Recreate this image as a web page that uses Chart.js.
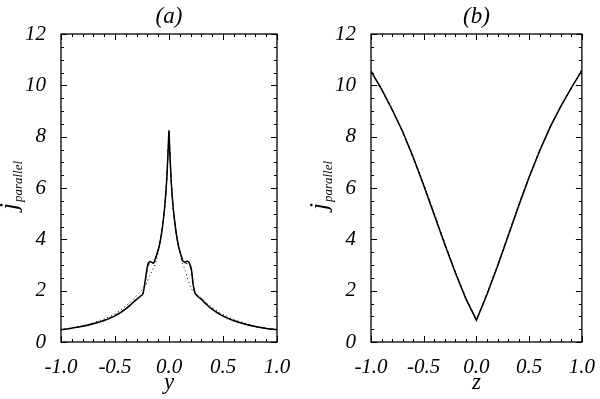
<!DOCTYPE html>
<html>
<head>
<meta charset="utf-8">
<script src="https://cdn.jsdelivr.net/npm/chart.js@4/dist/chart.umd.min.js"></script>
<style>
  html, body { margin: 0; padding: 0; background: #fff; }
  #wrap { position: relative; width: 600px; height: 399px; }
  canvas { position: absolute; top: 0; }
</style>
</head>
<body>
<div id="wrap">
  <canvas id="panelA" width="300" height="399" style="left:0"></canvas>
  <canvas id="panelB" width="300" height="399" style="left:300px"></canvas>
</div>
<script>
// panel (a): j_parallel vs y
const yPos = [-1.0, -0.9, -0.8, -0.7, -0.6, -0.5, -0.45, -0.4, -0.35, -0.3, -0.26, -0.24, -0.22, -0.2, -0.19, -0.175, -0.16, -0.145, -0.13, -0.11, -0.09, -0.07, -0.05, -0.035, -0.02, -0.01, -0.004, 0,
  0.004, 0.01, 0.02, 0.035, 0.05, 0.07, 0.09, 0.11, 0.13, 0.15, 0.17, 0.185, 0.2, 0.21, 0.225, 0.24, 0.26, 0.3, 0.35, 0.4, 0.45, 0.5, 0.6, 0.7, 0.8, 0.9, 1.0];
const jSolidA = [0.48, 0.54, 0.61, 0.71, 0.84, 1.02, 1.14, 1.29, 1.47, 1.66, 1.8, 1.9, 2.4, 2.95, 3.08, 3.14, 3.1, 3.07, 3.2, 3.45, 3.75, 4.2, 4.85, 5.5, 6.4, 7.3, 7.9, 8.25,
  7.8, 7.2, 6.3, 5.4, 4.8, 4.15, 3.7, 3.4, 3.15, 3.12, 3.15, 3.1, 2.95, 2.75, 2.2, 1.92, 1.8, 1.66, 1.45, 1.27, 1.13, 1.01, 0.83, 0.7, 0.6, 0.53, 0.48];
const jDashA = [0.48, 0.54, 0.62, 0.72, 0.85, 1.04, 1.16, 1.31, 1.49, 1.68, 1.8, 1.9, 2.35, 2.85, 3.0, 3.05, 3.05, 3.07, 3.2, 3.45, 3.75, 4.2, 4.85, 5.5, 6.4, 7.3, 7.85, 8.2,
  7.75, 7.15, 6.3, 5.4, 4.8, 4.15, 3.7, 3.4, 3.15, 3.08, 3.05, 3.02, 2.9, 2.7, 2.2, 1.92, 1.82, 1.68, 1.47, 1.29, 1.14, 1.02, 0.84, 0.71, 0.6, 0.53, 0.48];
const jDotA = [0.48, 0.55, 0.63, 0.75, 0.9, 1.1, 1.24, 1.4, 1.58, 1.8, 1.98, 2.08, 2.2, 2.35, 2.48, 2.62, 2.75, 2.88, 3.0, 3.3, 3.7, 4.15, 4.8, 5.45, 6.35, 7.25, 7.85, 8.2,
  7.8, 7.2, 6.3, 5.4, 4.75, 4.1, 3.65, 3.3, 3.0, 2.8, 2.5, 2.3, 2.15, 2.05, 1.98, 1.92, 1.85, 1.72, 1.52, 1.35, 1.2, 1.08, 0.88, 0.74, 0.62, 0.54, 0.48];

// panel (b): j_parallel vs z
const zPos = [-1.0, -0.9, -0.8, -0.7, -0.6, -0.5, -0.4, -0.3, -0.2, -0.1, 0, 0.1, 0.2, 0.3, 0.4, 0.5, 0.6, 0.7, 0.8, 0.9, 1.0];
const jSolidB = [10.55, 9.85, 9.06, 8.2, 7.2, 6.1, 4.95, 3.8, 2.7, 1.68, 0.85, 1.85, 2.95, 4.12, 5.3, 6.42, 7.45, 8.38, 9.18, 9.9, 10.58];
const jDashB = [10.55, 9.83, 9.04, 8.18, 7.18, 6.12, 4.98, 3.83, 2.72, 1.7, 0.86, 1.87, 2.97, 4.14, 5.32, 6.44, 7.46, 8.38, 9.18, 9.9, 10.58];
const jDotB = [10.55, 9.87, 9.08, 8.23, 7.24, 6.16, 5.02, 3.86, 2.74, 1.72, 0.87, 1.89, 3.0, 4.17, 5.35, 6.46, 7.48, 8.4, 9.2, 9.9, 10.58];

const xTickVals = [-1, -0.5, 0, 0.5, 1];
const xTickLabels = ['-1.0', '-0.5', '0.0', '0.5', '1.0'];
const yTickVals = [0, 2, 4, 6, 8, 10, 12];
const yTickLabels = ['0', '2', '4', '6', '8', '10', '12'];

const SERIF = '"Liberation Serif", "DejaVu Serif", serif';

function pts(xs, vs) {
  return xs.map((x, i) => ({ x: x, y: vs[i] }));
}

// frame, inward ticks, titles
const idlFrame = {
  id: 'idlFrame',
  afterDraw(chart, args, opts) {
    const ctx = chart.ctx;
    const { left, right, top, bottom } = chart.chartArea;
    const sx = chart.scales.x, sy = chart.scales.y;
    ctx.save();
    ctx.strokeStyle = '#000';
    ctx.lineWidth = 1.3;
    ctx.strokeRect(left, top, right - left, bottom - top);
    ctx.lineWidth = 1;
    ctx.beginPath();
    for (let k = 0; k <= 24; k++) {
      const v = k * 0.5;
      const py = Math.round(sy.getPixelForValue(v)) + 0.5;
      const len = (k % 4 === 0) ? 6 : 3;
      ctx.moveTo(left, py); ctx.lineTo(left + len, py);
      ctx.moveTo(right, py); ctx.lineTo(right - len, py);
    }
    for (let k = 0; k <= 20; k++) {
      const v = -1 + k * 0.1;
      const px = Math.round(sx.getPixelForValue(v)) + 0.5;
      const len = (k % 5 === 0) ? 6 : 3;
      ctx.moveTo(px, bottom); ctx.lineTo(px, bottom - len);
      ctx.moveTo(px, top); ctx.lineTo(px, top + len);
    }
    ctx.stroke();

    ctx.fillStyle = '#000';
    ctx.textAlign = 'center';
    ctx.textBaseline = 'alphabetic';
    const cx = (left + right) / 2;
    ctx.font = 'italic 23px ' + SERIF;
    ctx.fillText(opts.title, cx, 23);
    ctx.fillText(opts.xTitle, cx, bottom + 47);

    // y title: j with subscript "parallel", rotated
    ctx.translate(left - 44, 186);
    ctx.rotate(-Math.PI / 2);
    ctx.textAlign = 'left';
    ctx.font = 'italic 25px ' + SERIF;
    const wj = ctx.measureText('j').width;
    ctx.font = 'italic 13px ' + SERIF;
    const ws = ctx.measureText('parallel').width;
    const x0 = -(wj + ws) / 2;
    ctx.font = 'italic 25px ' + SERIF;
    ctx.fillText('j', x0, 0);
    ctx.font = 'italic 13px ' + SERIF;
    ctx.fillText('parallel', x0 + wj + 1, 5);
    ctx.restore();
  }
};

function makePanel(id, xs, solid, dash, dot, title, xTitle, padLeft, padRight, smooth) {
  return new Chart(document.getElementById(id), {
    type: 'line',
    data: {
      datasets: [
        { data: pts(xs, solid), borderColor: '#000', borderWidth: 1.5 },
        { data: pts(xs, dash), borderColor: '#000', borderWidth: 1, borderDash: [4, 3] },
        { data: pts(xs, dot), borderColor: '#000', borderWidth: 1, borderDash: [1, 3] }
      ]
    },
    options: {
      responsive: false,
      animation: false,
      layout: { padding: { left: padLeft, right: padRight, top: 34, bottom: 0 } },
      elements: {
        point: { radius: 0 },
        line: smooth ? { cubicInterpolationMode: 'monotone', fill: false } : { tension: 0, fill: false }
      },
      plugins: {
        legend: { display: false },
        tooltip: { enabled: false },
        idlFrame: { title: title, xTitle: xTitle }
      },
      scales: {
        x: {
          type: 'linear', min: -1, max: 1,
          grid: { display: false }, border: { display: false },
          afterBuildTicks: s => { s.ticks = xTickVals.map(v => ({ value: v })); },
          afterFit: s => { s.height = 57; },
          ticks: {
            padding: 5, color: '#000', maxRotation: 0,
            font: { family: SERIF, style: 'italic', size: 21 },
            callback: (v) => xTickLabels[xTickVals.indexOf(v)]
          }
        },
        y: {
          min: 0, max: 12,
          grid: { display: false }, border: { display: false },
          afterBuildTicks: s => { s.ticks = yTickVals.map(v => ({ value: v })); },
          afterFit: s => { s.width = 61; },
          ticks: {
            padding: 7, color: '#000',
            font: { family: SERIF, style: 'italic', size: 21 },
            callback: (v) => yTickLabels[yTickVals.indexOf(v)]
          }
        }
      }
    },
    plugins: [idlFrame]
  });
}

makePanel('panelA', yPos, jSolidA, jDashA, jDotA, '(a)', 'y', 0, 23, true);
makePanel('panelB', zPos, jSolidB, jDashB, jDotB, '(b)', 'z', 10, 13, false);
</script>
</body>
</html>
